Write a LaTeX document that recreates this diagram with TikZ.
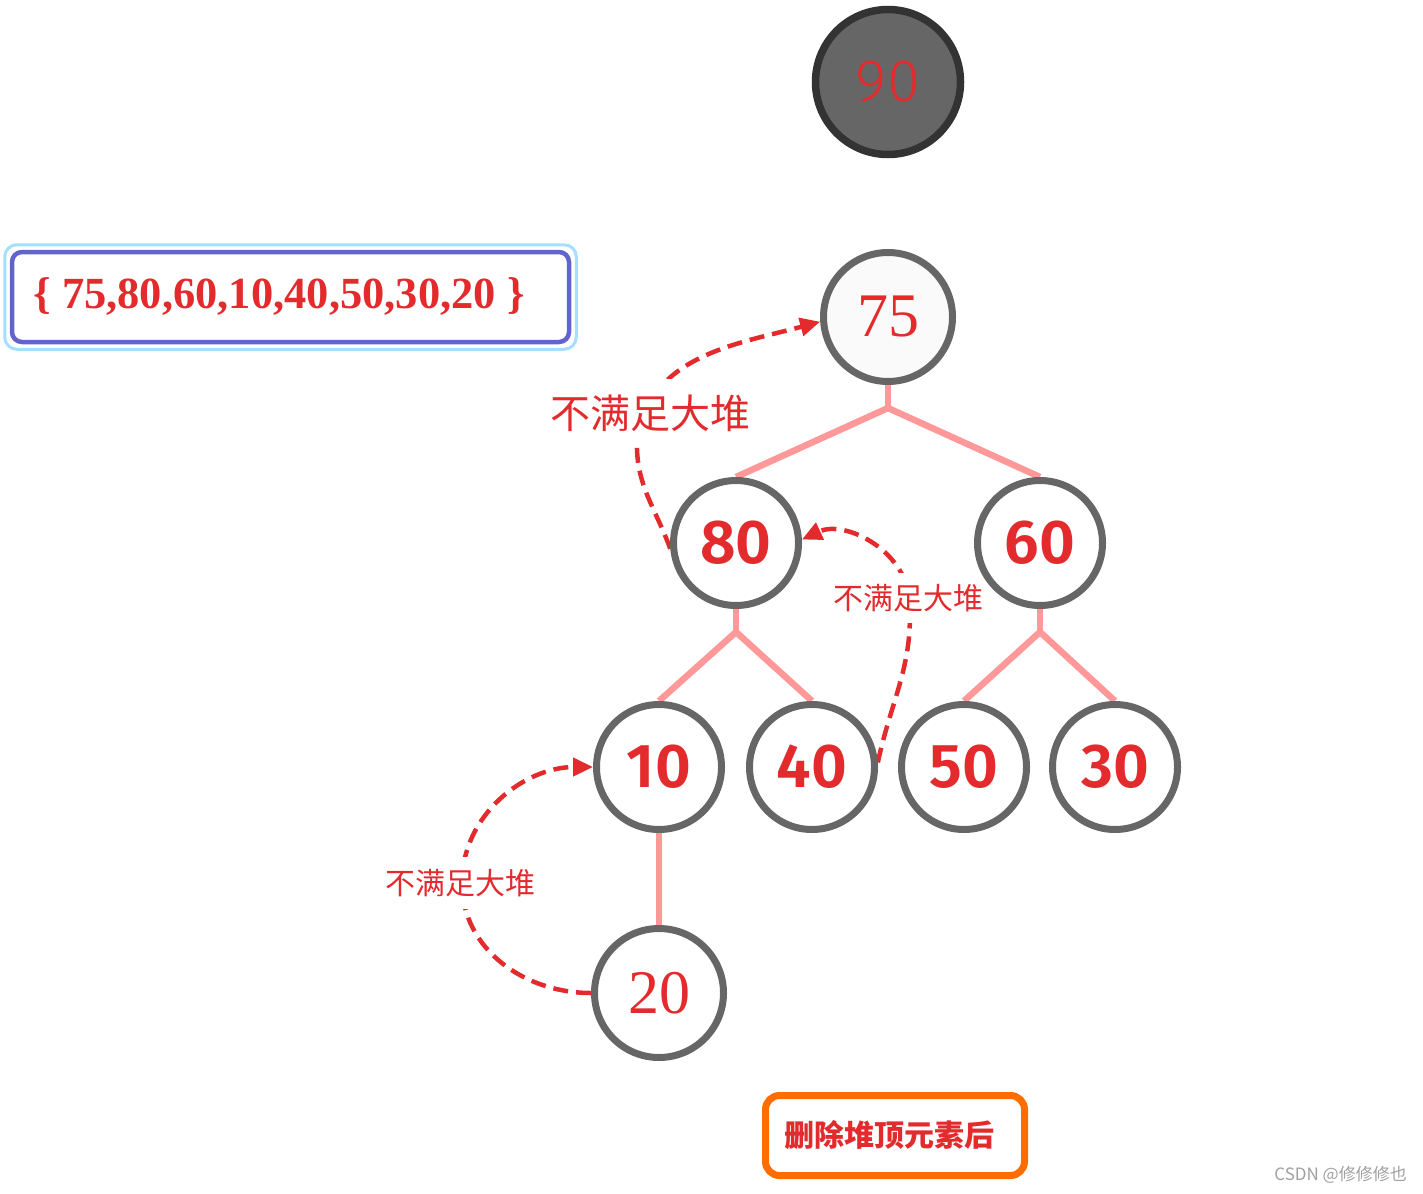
\documentclass[tikz,border=0pt]{standalone}
\usepackage{fontspec}
\usetikzlibrary{arrows.meta,backgrounds}
\newfontfamily\cjkf{Noto Sans CJK SC}
\newfontfamily\numf{Fira Sans SemiBold}
\newfontfamily\serf{Liberation Serif}
\newfontfamily\thinf{Fira Sans Light}
\definecolor{txtred}{HTML}{E32B2E}
\definecolor{ringgray}{HTML}{666666}
\definecolor{darkring}{HTML}{333333}
\definecolor{edgepink}{HTML}{FF9999}
\definecolor{setblue}{HTML}{6363CC}
\definecolor{lightblue}{HTML}{A3E0FF}
\definecolor{boxorange}{HTML}{FF6D00}
\definecolor{wmgray}{HTML}{A0A0A0}
\tikzset{
  heapnode/.style={circle,draw=ringgray,line width=7pt,fill=white,text=txtred,minimum size=125pt,inner sep=0pt,
    font=\numf\fontsize{62}{62}\selectfont},
  serifnode/.style={heapnode,minimum size=129pt,font=\serf\fontsize{62}{62}\selectfont},
  edgeline/.style={draw=edgepink,line width=6.5pt},
  hintarrow/.style={draw=txtred,line width=4.5pt,dash pattern=on 15pt off 8pt,-{Triangle[length=20pt,width=18pt]}},
  hintlabel/.style={text=txtred,fill=white,inner xsep=2pt,font=\cjkf\fontsize{30}{30}\selectfont}
}
\begin{document}
\begin{tikzpicture}[x=1pt,y=1pt]
\useasboundingbox (0,0) rectangle (1423,-1193);
% labels (below circles)
\node[hintlabel,inner ysep=16pt,font=\cjkf\fontsize{40}{40}\selectfont] (lab1) at (650,-413) {不满足大堆};
\node[hintlabel,inner ysep=11pt] (lab2) at (908,-598) {不满足大堆};
\node[hintlabel,inner ysep=12pt] (lab3) at (460,-883) {不满足大堆};
% removed top
\node[circle,draw=darkring,fill=ringgray,line width=7.5pt,minimum size=145pt,inner sep=0pt,text=txtred,
  font=\thinf\fontsize{60}{60}\selectfont] (n90) at (888,-82) {90};
% heap nodes
\node[serifnode,fill=white!98!black] (n75) at (888,-317) {75};
\node[heapnode] (n80) at (736,-543) {80};
\node[heapnode] (n60) at (1040,-543) {60};
\node[heapnode] (n10) at (659,-767) {10};
\node[heapnode] (n40) at (812,-767) {40};
\node[heapnode] (n50) at (964,-767) {50};
\node[heapnode] (n30) at (1115,-767) {30};
\node[serifnode] (n20) at (659,-993) {20};
% array box
\node[draw=setblue,line width=4.5pt,rounded corners=10pt,minimum width=557pt,minimum height=90pt,text=txtred,
  font=\serf\bfseries\fontsize{44.5}{44.5}\selectfont] (arr) at (290.5,-297) {\{ 75,80,60,10,40,50,30,20 \}\hspace*{23pt}};
\draw[lightblue,line width=3pt,rounded corners=12pt] ([shift={(-5,5)}]arr.north west) rectangle ([shift={(5,-5)}]arr.south east);
% caption box
\node[draw=boxorange,line width=7pt,rounded corners=14pt,minimum width=259pt,minimum height=80pt,text=txtred,
  font=\cjkf\bfseries\fontsize{30}{30}\selectfont] (cap) at (895,-1135.5) {删除堆顶元素后\hspace*{12pt}};
% watermark
\node[text=wmgray,font=\cjkf\fontsize{17}{17}\selectfont,anchor=east,inner sep=0pt] (wm) at (1407,-1175) {CSDN @修修修也};
\coordinate (j1) at (888,-408);
\coordinate (j2) at (736,-632);
\coordinate (j3) at (1040,-632);
\coordinate (m1) at (637,-440);
\coordinate (m2) at (909,-598);
\coordinate (m3) at (462,-883);
\begin{pgfonlayer}{background}
  \draw[edgeline] (n75.south) -- (j1);
  \draw[edgeline] (j1) -- (n80.north);
  \draw[edgeline] (j1) -- (n60.north);
  \draw[edgeline] (n80.south) -- (j2);
  \draw[edgeline] (j2) -- (n10.north);
  \draw[edgeline] (j2) -- (n40.north);
  \draw[edgeline] (n60.south) -- (j3);
  \draw[edgeline] (j3) -- (n50.north);
  \draw[edgeline] (j3) -- (n30.north);
  \draw[edgeline] (n10.south) -- (n20.north);
  % hint arrows
  \draw[hintarrow] (n80.185) to[out=110,in=-92] (m1) to[out=82,in=195] (n75.184);
  \draw[hintarrow] (n40.4) to[out=78,in=-85] (m2) to[out=95,in=25] (n80.3);
  \draw[hintarrow] (n20.180) to[out=180,in=-90] (m3) to[out=90,in=180] (n10.180);
\end{pgfonlayer}
\end{tikzpicture}
\end{document}
